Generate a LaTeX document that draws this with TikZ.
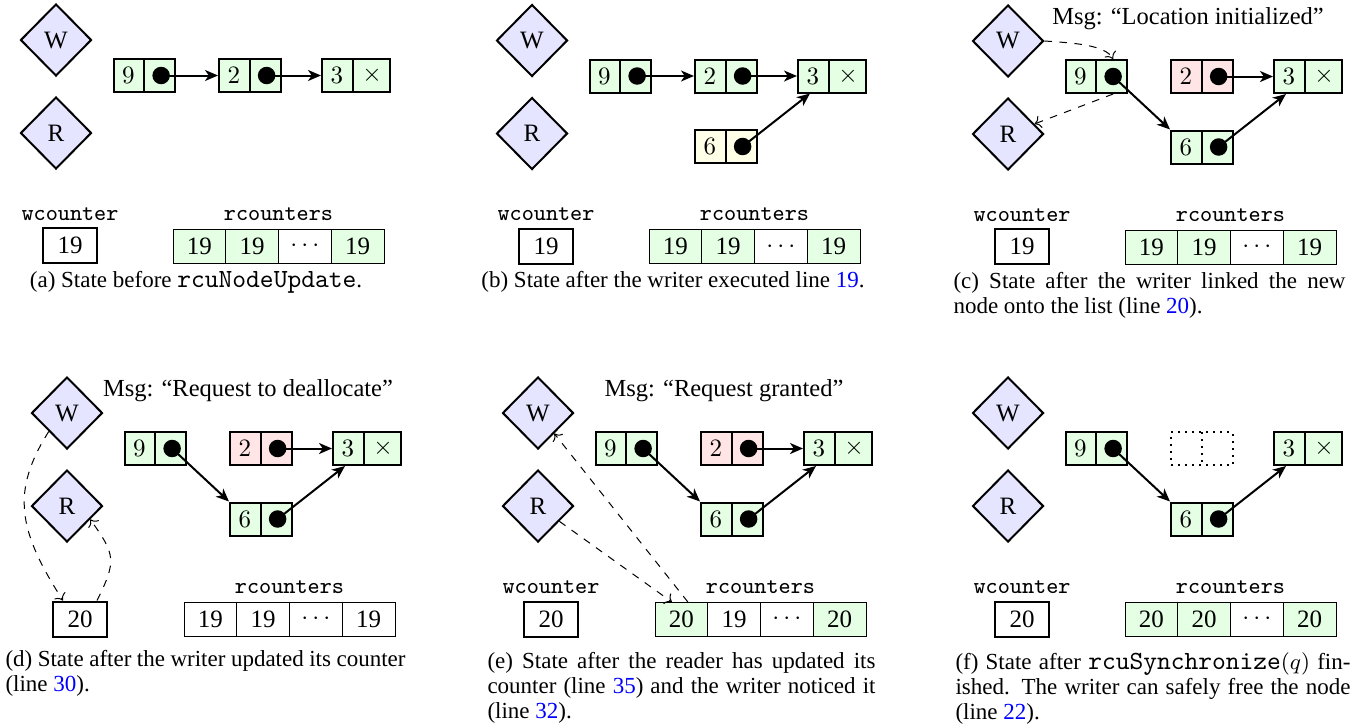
\documentclass[tikz,border=0pt]{standalone}
\usepackage{fontspec}
\setmainfont{Liberation Serif}
\setmonofont{Latin Modern Mono}[Scale=1.14]
\usetikzlibrary{positioning,shapes.geometric,shapes.multipart,arrows.meta}

\tikzset{
  proc/.style={diamond, draw, thick, fill=blue!10, minimum width=28.4pt, minimum height=28.8pt, inner sep=0pt, font=\fontsize{10}{12}\selectfont},
  elem/.style={rectangle split, rectangle split horizontal, rectangle split parts=2, draw, thick, inner xsep=3.45pt, inner ysep=0pt, minimum height=13.2pt, anchor=west, rectangle split part fill={#1}},
  freed/.style={rectangle split, rectangle split horizontal, rectangle split parts=2, draw, thick, dotted, inner xsep=3.45pt, inner ysep=0pt, minimum height=13.2pt, anchor=west},
  ptr/.style={circle, fill, inner sep=0pt, minimum size=7pt},
  link/.style={thick, -{Stealth[length=5.2pt, width=4.4pt, inset=1.5pt]}},
  msg/.style={dashed, ->},
  wbox/.style={draw, thick, minimum width=21.6pt, minimum height=14pt, inner sep=0pt, font=\fontsize{10}{12}\selectfont},
  rcell/.style={draw, fill=#1, minimum width=21.1pt, minimum height=13.6pt, inner sep=0pt, outer sep=0pt, font=\fontsize{10}{12}\selectfont},
  lbl/.style={font=\fontsize{8.1}{10}\selectfont\ttfamily},
  note/.style={font=\fontsize{9.8}{12}\selectfont},
  subcap/.style={font=\fontsize{9.2}{10}\selectfont, inner sep=0pt, align=left, anchor=north west}
}

\begin{document}
\begin{tikzpicture}[x=0.4pt, y=-0.4pt]
    \useasboundingbox (0,0) rectangle (1364,727);

    % (a)
    \begin{scope}[shift={(56,40)}]
    \node[proc] (aW) at (0,0) {W};
    \node[proc] (aR) at (0,93) {R};
    \node[elem=green!10] (a9) at (56.5,35.5) {$9$\nodepart{two}\phantom{$9$}};
    \node[elem=green!10] (a2) at (162,35.5) {$2$\nodepart{two}\phantom{$2$}};
    \node[elem=green!10] (a3) at (265,35.5) {$3$\nodepart{two}$\times$};
    \node[ptr] (a9p) at ([xshift=-5.95pt]a9.east) {};
    \node[ptr] (a2p) at ([xshift=-5.95pt]a2.east) {};
    \draw[link] (a9p.center) -- (a2);
    \draw[link] (a2p.center) -- (a3);
    \node[lbl] (awl) at (14,174) {wcounter};
    \node[wbox] (awc) at (14,205.5) {19};
    \node[lbl] (arl) at (222.5,174) {rcounters};
    \node[rcell=green!10, anchor=west] (ar1) at (117,206) {19};
    \node[rcell=green!10, right=0pt of ar1] (ar2) {19};
    \node[rcell=white, right=0pt of ar2] (ar3) {$\cdots$};
    \node[rcell=green!10, right=0pt of ar3] (ar4) {19};
    \end{scope}
    \node[subcap, anchor=center] (acap) at (196,282) {(a) State before \texttt{rcuNodeUpdate}.};

    % (b)
    \begin{scope}[shift={(532,40.5)}]
    \node[proc] (bW) at (0,0) {W};
    \node[proc] (bR) at (0,93) {R};
    \node[elem=green!10] (b9) at (56.5,35.5) {$9$\nodepart{two}\phantom{$9$}};
    \node[elem=green!10] (b2) at (162,35.5) {$2$\nodepart{two}\phantom{$2$}};
    \node[elem=green!10] (b3) at (265,35.5) {$3$\nodepart{two}$\times$};
    \node[elem=yellow!10] (b6) at (162,106) {$6$\nodepart{two}\phantom{$6$}};
    \node[ptr] (b9p) at ([xshift=-5.95pt]b9.east) {};
    \node[ptr] (b2p) at ([xshift=-5.95pt]b2.east) {};
    \node[ptr] (b6p) at ([xshift=-5.95pt]b6.east) {};
    \draw[link] (b9p.center) -- (b2);
    \draw[link] (b2p.center) -- (b3);
    \draw[link] (b6p.center) -- (b3);
    \node[lbl] (bwl) at (14,174) {wcounter};
    \node[wbox] (bwc) at (14,205.5) {19};
    \node[lbl] (brl) at (222.5,174) {rcounters};
    \node[rcell=green!10, anchor=west] (br1) at (117,206) {19};
    \node[rcell=green!10, right=0pt of br1] (br2) {19};
    \node[rcell=white, right=0pt of br2] (br3) {$\cdots$};
    \node[rcell=green!10, right=0pt of br3] (br4) {19};
    \end{scope}
    \node[subcap, anchor=center] (bcap) at (673,282) {(b) State after the writer executed line \textcolor{blue}{19}.};

    % (c)
    \begin{scope}[shift={(1008,41)}]
    \node[proc] (cW) at (0,0) {W};
    \node[proc] (cR) at (0,93) {R};
    \node[note] (cmsg) at (180,-22) {Msg: “Location initialized”};
    \node[elem=green!10] (c9) at (56.5,35.5) {$9$\nodepart{two}\phantom{$9$}};
    \node[elem=red!10] (c2) at (162,35.5) {$2$\nodepart{two}\phantom{$2$}};
    \node[elem=green!10] (c3) at (265,35.5) {$3$\nodepart{two}$\times$};
    \node[elem=green!10] (c6) at (162,106) {$6$\nodepart{two}\phantom{$6$}};
    \node[ptr] (c9p) at ([xshift=-5.95pt]c9.east) {};
    \node[ptr] (c2p) at ([xshift=-5.95pt]c2.east) {};
    \node[ptr] (c6p) at ([xshift=-5.95pt]c6.east) {};
    \draw[link] (c9p.center) -- (c6.north west);
    \draw[link] (c2p.center) -- (c3);
    \draw[link] (c6p.center) -- (c3);
    \draw[msg] (cW.east) .. controls +(30,2) and +(-8,-14) .. ([xshift=-5.95pt]c9.north east);
    \draw[msg] ([xshift=-5.95pt]c9.south east) -- (cR);
    \node[lbl] (cwl) at (14,174) {wcounter};
    \node[wbox] (cwc) at (14,205.5) {19};
    \node[lbl] (crl) at (222.5,174) {rcounters};
    \node[rcell=green!10, anchor=west] (cr1) at (117,206) {19};
    \node[rcell=green!10, right=0pt of cr1] (cr2) {19};
    \node[rcell=white, right=0pt of cr2] (cr3) {$\cdots$};
    \node[rcell=green!10, right=0pt of cr3] (cr4) {19};
    \end{scope}
    \node[subcap] (ccap) at (953,272) {\makebox[156.8pt][s]{(c) State after the writer linked the new}\\node onto the list (line \textcolor{blue}{20}).};

    % (d)
    \begin{scope}[shift={(67,413)}]
    \node[proc] (dW) at (0,0) {W};
    \node[proc] (dR) at (0,93) {R};
    \node[note] (dmsg) at (181,-22) {Msg: “Request to deallocate”};
    \node[elem=green!10] (d9) at (56.5,35.5) {$9$\nodepart{two}\phantom{$9$}};
    \node[elem=red!10] (d2) at (162,35.5) {$2$\nodepart{two}\phantom{$2$}};
    \node[elem=green!10] (d3) at (265,35.5) {$3$\nodepart{two}$\times$};
    \node[elem=green!10] (d6) at (162,106) {$6$\nodepart{two}\phantom{$6$}};
    \node[ptr] (d9p) at ([xshift=-5.95pt]d9.east) {};
    \node[ptr] (d2p) at ([xshift=-5.95pt]d2.east) {};
    \node[ptr] (d6p) at ([xshift=-5.95pt]d6.east) {};
    \draw[link] (d9p.center) -- (d6.north west);
    \draw[link] (d2p.center) -- (d3);
    \draw[link] (d6p.center) -- (d3);
    \node[wbox] (dwc) at (13,206) {20};
    \node[lbl] (drl) at (222.5,174) {rcounters};
    \node[rcell=white, anchor=west] (dr1) at (117,206) {19};
    \node[rcell=white, right=0pt of dr1] (dr2) {19};
    \node[rcell=white, right=0pt of dr2] (dr3) {$\cdots$};
    \node[rcell=white, right=0pt of dr3] (dr4) {19};
    \draw[msg] (dW.south west) .. controls +(-38,60) and +(-45,-70) .. ([xshift=-6.8pt]dwc.north);
    \draw[msg] ([xshift=6.8pt]dwc.north) .. controls +(20,-40) and +(25,35) .. (dR.-30);
    \end{scope}
    \node[subcap] (dcap) at (5,650) {\makebox[160pt][s]{(d) State after the writer updated its counter}\\(line \textcolor{blue}{30}).};

    % (e)
    \begin{scope}[shift={(538,413)}]
    \node[proc] (eW) at (0,0) {W};
    \node[proc] (eR) at (0,93) {R};
    \node[note] (emsg) at (186,-22) {Msg: “Request granted”};
    \node[elem=green!10] (e9) at (56.5,35.5) {$9$\nodepart{two}\phantom{$9$}};
    \node[elem=red!10] (e2) at (162,35.5) {$2$\nodepart{two}\phantom{$2$}};
    \node[elem=green!10] (e3) at (265,35.5) {$3$\nodepart{two}$\times$};
    \node[elem=green!10] (e6) at (162,106) {$6$\nodepart{two}\phantom{$6$}};
    \node[ptr] (e9p) at ([xshift=-5.95pt]e9.east) {};
    \node[ptr] (e2p) at ([xshift=-5.95pt]e2.east) {};
    \node[ptr] (e6p) at ([xshift=-5.95pt]e6.east) {};
    \draw[link] (e9p.center) -- (e6.north west);
    \draw[link] (e2p.center) -- (e3);
    \draw[link] (e6p.center) -- (e3);
    \node[lbl] (ewl) at (13,174) {wcounter};
    \node[wbox] (ewc) at (13,206) {20};
    \node[lbl] (erl) at (222.5,174) {rcounters};
    \node[rcell=green!10, anchor=west] (er1) at (117,206) {20};
    \node[rcell=white, right=0pt of er1] (er2) {19};
    \node[rcell=white, right=0pt of er2] (er3) {$\cdots$};
    \node[rcell=green!10, right=0pt of er3] (er4) {20};
    \draw[msg] (eR) -- ([xshift=-3.8pt]er1.north);
    \draw[msg] ([xshift=2.6pt]er1.north) -- (eW);
    \end{scope}
    \node[subcap] (ecap) at (487,652) {\makebox[155.2pt][s]{(e) State after the reader has updated its}\\\makebox[155.2pt][s]{counter (line \textcolor{blue}{35}) and the writer noticed it}\\(line \textcolor{blue}{32}).};

    % (f)
    \begin{scope}[shift={(1008,413)}]
    \node[proc] (fW) at (0,0) {W};
    \node[proc] (fR) at (0,93) {R};
    \node[elem=green!10] (f9) at (56.5,35.5) {$9$\nodepart{two}\phantom{$9$}};
    \node[freed] (f2) at (162,35.5) {\phantom{$2$}\nodepart{two}\phantom{$2$}};
    \node[elem=green!10] (f3) at (265,35.5) {$3$\nodepart{two}$\times$};
    \node[elem=green!10] (f6) at (162,106) {$6$\nodepart{two}\phantom{$6$}};
    \node[ptr] (f9p) at ([xshift=-5.95pt]f9.east) {};
    \node[ptr] (f6p) at ([xshift=-5.95pt]f6.east) {};
    \draw[link] (f9p.center) -- (f6.north west);
    \draw[link] (f6p.center) -- (f3);
    \node[lbl] (fwl) at (14,174) {wcounter};
    \node[wbox] (fwc) at (14,206) {20};
    \node[lbl] (frl) at (222.5,174) {rcounters};
    \node[rcell=green!10, anchor=west] (fr1) at (117,206) {20};
    \node[rcell=green!10, right=0pt of fr1] (fr2) {20};
    \node[rcell=white, right=0pt of fr2] (fr3) {$\cdots$};
    \node[rcell=green!10, right=0pt of fr3] (fr4) {20};
    \end{scope}
    \node[subcap] (fcap) at (955,652) {\makebox[158pt][s]{(f) State after \texttt{rcuSynchronize}$(q)$ fin-}\\\makebox[158pt][s]{ished. The writer can safely free the node}\\(line \textcolor{blue}{22}).};
\end{tikzpicture}
\end{document}
